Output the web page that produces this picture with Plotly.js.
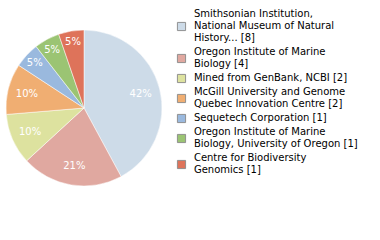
<!DOCTYPE html>
<html><head><meta charset="utf-8">
<script src="https://cdn.plot.ly/plotly-3.0.1.min.js"></script>
<style>body{margin:0;padding:0;background:#fff}</style>
</head><body>
<div id="chart" style="width:380px;height:240px"></div>
<script>
const labels = [
  "Smithsonian Institution,<br>National Museum of Natural<br>History... [8]",
  "Oregon Institute of Marine<br>Biology [4]",
  "Mined from GenBank, NCBI [2]",
  "McGill University and Genome<br>Quebec Innovation Centre [2]",
  "Sequetech Corporation [1]",
  "Oregon Institute of Marine<br>Biology, University of Oregon [1]",
  "Centre for Biodiversity<br>Genomics [1]"
];
const values = [8, 4, 2, 2, 1, 1, 1];
const colors = ["#cddbe8", "#e0a8a0", "#dde29f", "#f0ae72", "#9ab9de", "#9bc473", "#de735a"];

const total = values.reduce((a, b) => a + b, 0);
const pctText = values.map(v => Math.floor(v / total * 100) + "%");
const dom = {x: [6/380, 162/380], y: [54/240, 210/240]};

const pieBase = {
  type: "pie", labels: labels, values: values, sort: false,
  direction: "clockwise", rotation: 0, hoverinfo: "none", domain: dom
};

Plotly.newPlot("chart", [
  Object.assign({}, pieBase, {
    marker: {colors: colors, line: {color: "#ffffff", width: 0.5}},
    textinfo: "none"
  }),
  Object.assign({}, pieBase, {
    hole: 0.5, showlegend: false,
    marker: {colors: labels.map(() => "rgba(0,0,0,0)"), line: {width: 0}},
    text: pctText, textinfo: "text", textposition: "inside",
    insidetextorientation: "horizontal",
    textfont: {family: "DejaVu Sans", size: 10, color: "#ffffff"}
  })
], {
  width: 380, height: 240,
  margin: {l: 0, r: 0, t: 0, b: 0},
  paper_bgcolor: "#ffffff",
  showlegend: true,
  legend: {x: 0.405, y: 1.0, xanchor: "left", yanchor: "top",
    font: {family: "DejaVu Sans", size: 10, color: "#000000"},
    bgcolor: "rgba(0,0,0,0)"}
}, {staticPlot: true}).then(gd => {
  // compact legend line spacing (12px lines, 2px gap between entries)
  const LH = 12, GAP = 2;
  const items = gd.querySelectorAll(".legend .traces");
  let y0 = null, cursor = 0;
  items.forEach((g) => {
    const m = /translate\(\s*([-\d.]+)[ ,]+([-\d.]+)\s*\)/.exec(g.getAttribute("transform") || "");
    if (!m) return;
    const x = parseFloat(m[1]);
    const txt = g.querySelector("text.legendtext");
    const lines = txt ? txt.querySelectorAll("tspan.line") : [];
    const n = Math.max(1, lines.length);
    if (y0 === null) { y0 = parseFloat(m[2]) - (n * 13) / 2 + 1; }
    const center = y0 + cursor + n * LH / 2;
    cursor += n * LH + GAP;
    g.setAttribute("transform", "translate(" + x + "," + center + ")");
    if (txt && lines.length > 1) {
      const ty = -LH * ((n - 1) / 2 - 0.3);
      txt.setAttribute("y", ty);
      lines.forEach((t, k) => {
        t.setAttribute("y", ty);
        t.setAttribute("dy", (k * LH) + "px");
      });
    }
    const pts = g.querySelector(".legendpoints");
    if (pts) {
      pts.setAttribute("transform", "translate(14,1) scale(0.68)");
      pts.querySelectorAll("path").forEach(p => {
        p.style.stroke = "#8c8c8c";
        p.style.strokeWidth = "1.4px";
      });
    }
  });
});
</script>
</body></html>
